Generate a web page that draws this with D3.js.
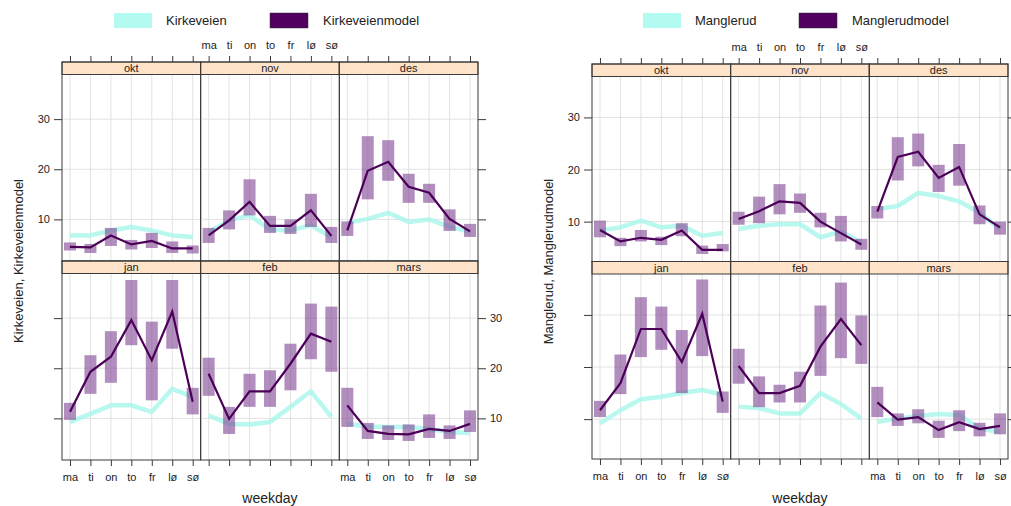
<!DOCTYPE html>
<html>
<head>
<meta charset="utf-8">
<script src="https://cdn.jsdelivr.net/npm/d3@7"></script>
<style>
  body { margin: 0; background: #fff; }
  svg { display: block; font-family: "Liberation Sans", Arial, sans-serif; }
</style>
</head>
<body>
<svg id="svg" width="1011" height="506"></svg>
<script>
const days = ["ma", "ti", "on", "to", "fr", "lø", "sø"]
const months = ["okt", "nov", "des", "jan", "feb", "mars"]
const yTicks = [10, 20, 30]

// Kirkeveien - one row per month (okt..mars), one value per weekday
const kirkeObs = [
  [6.8, 6.8, 7.8, 8.5, 7.8, 6.8, 6.5],
  [7.5, 9.8, 10.8, 8.0, 7.8, 8.8, 6.5],
  [9.3, 10.1, 11.3, 9.5, 10.0, 8.5, 7.5],
  [9.3, 10.9, 12.6, 12.6, 11.3, 15.9, 14.3],
  [10.6, 8.9, 8.8, 9.3, 12.3, 15.4, 10.3],
  [8.9, 8.4, 8.3, 8.3, 7.9, 7.3, 7.1]
]
const kirkeModel = [
  [4.5, 4.4, 6.8, 5.0, 5.7, 4.2, 4.2],
  [6.8, 9.8, 13.5, 8.7, 8.7, 11.8, 6.7],
  [7.8, 19.7, 21.5, 16.5, 15.3, 10.1, 7.6],
  [11.3, 19.3, 22.3, 29.6, 21.6, 31.3, 13.3],
  [18.9, 9.9, 15.4, 15.4, 20.9, 26.9, 25.3],
  [12.6, 7.5, 6.9, 6.8, 7.9, 7.5, 8.9]
]
const kirkeLo = [
  [3.8, 3.3, 4.7, 4.0, 4.3, 3.3, 3.2],
  [5.3, 8.0, 10.8, 7.3, 7.1, 8.5, 5.3],
  [6.7, 14.0, 17.7, 13.3, 13.3, 7.7, 6.5],
  [9.7, 14.9, 17.1, 24.6, 13.6, 23.9, 10.8],
  [14.5, 6.9, 12.3, 12.3, 15.6, 21.8, 19.3],
  [8.3, 5.9, 5.7, 5.5, 6.1, 5.9, 7.3]
]
const kirkeHi = [
  [5.4, 5.1, 8.3, 5.9, 7.3, 5.6, 4.8],
  [8.3, 11.8, 18.0, 10.7, 10.0, 15.1, 8.5],
  [9.6, 26.6, 25.8, 19.1, 17.1, 12.0, 9.1],
  [13.1, 22.6, 27.4, 37.6, 29.3, 37.6, 16.1],
  [22.1, 12.3, 18.9, 19.6, 24.9, 32.9, 32.3],
  [16.1, 9.1, 8.6, 8.8, 10.8, 8.6, 11.6]
]

// Manglerud
const mangObs = [
  [8.3, 8.9, 10.2, 8.9, 9.2, 7.3, 7.8],
  [8.6, 9.2, 9.5, 9.5, 7.0, 8.1, 6.0],
  [12.4, 13.0, 15.5, 14.9, 13.9, 11.7, 8.6],
  [9.2, 11.7, 13.8, 14.3, 15.0, 15.6, 14.7],
  [12.4, 12.1, 11.1, 11.1, 15.0, 12.9, 10.1],
  [9.5, 10.1, 10.6, 11.0, 10.8, 8.2, 7.5]
]
const mangModel = [
  [8.4, 6.2, 6.9, 6.5, 8.3, 4.6, 4.6],
  [10.5, 12.0, 13.9, 13.6, 10.0, 7.8, 5.6],
  [11.9, 22.4, 23.4, 18.4, 20.5, 11.4, 8.9],
  [11.7, 16.9, 27.3, 27.3, 21.0, 30.2, 13.4],
  [20.2, 15.0, 15.0, 16.4, 23.9, 29.2, 24.2],
  [13.2, 9.9, 10.4, 7.9, 9.4, 8.1, 8.7]
]
const mangLo = [
  [7.0, 5.3, 6.2, 5.5, 7.2, 3.8, 4.3],
  [9.4, 9.7, 11.4, 11.7, 8.9, 6.2, 4.6],
  [10.6, 17.9, 20.6, 15.7, 16.9, 9.5, 7.5],
  [10.4, 14.8, 21.9, 23.3, 15.0, 22.1, 11.2],
  [16.8, 12.3, 13.2, 13.2, 18.3, 21.7, 20.6],
  [10.4, 8.7, 9.2, 6.4, 7.7, 6.7, 7.1]
]
const mangHi = [
  [10.2, 6.9, 8.4, 7.1, 9.7, 5.4, 5.7],
  [11.9, 14.8, 17.2, 15.4, 11.7, 11.1, 6.7],
  [13.0, 26.2, 26.9, 20.9, 24.9, 13.1, 10.0],
  [13.5, 22.4, 33.4, 31.6, 27.1, 36.8, 15.3],
  [23.5, 18.2, 16.6, 19.1, 31.8, 36.2, 29.9],
  [16.2, 11.1, 11.9, 9.7, 11.7, 9.3, 11.1]
]

// the right-hand chart's right axis labels fall outside the picture, so they are not drawn
const charts = [
  { name: "Kirkeveien", obs: kirkeObs, model: kirkeModel, lo: kirkeLo, hi: kirkeHi,
    left: 62, top: 62, right: 478, bottom: 460, domain: [1.7, 38.9], legX: [114, 270], titleX: 18, rightLabels: true },
  { name: "Manglerud", obs: mangObs, model: mangModel, lo: mangLo, hi: mangHi,
    left: 592, top: 64, right: 1008, bottom: 459, domain: [2.35, 37.85], legX: [643, 799], titleX: 548, rightLabels: false }
]

const obsColor = "#a6f6ea"
const modelColor = "#4b0057"
const barColor = "#7a3d8f"
const stripH = 12.5
const frame = "#3a3a3a"

const svg = d3.select("#svg")

charts.forEach(c => drawChart(c))

function drawChart(c) {
  const g = svg.append("g")
  const colW = (c.right - c.left) / 3
  const rowH = (c.bottom - c.top) / 2

  // legend
  const leg = g.append("g").attr("font-size", 13).attr("fill", "#222")
  leg.append("rect").attr("x", c.legX[0]).attr("y", 13).attr("width", 38).attr("height", 15).attr("fill", "#b3fbf1")
  leg.append("text").attr("x", c.legX[0] + 52).attr("y", 25).text(c.name)
  leg.append("rect").attr("x", c.legX[1]).attr("y", 13).attr("width", 38).attr("height", 15).attr("fill", "#520060").attr("stroke", "#333").attr("stroke-width", 0.5)
  leg.append("text").attr("x", c.legX[1] + 53).attr("y", 25).text(c.name + "model")

  months.forEach((m, i) => {
    const col = i % 3, row = Math.floor(i / 3)
    const x0 = c.left + col * colW
    const y0 = c.top + row * rowH
    const x = d3.scalePoint().domain(days).range([x0, x0 + colW]).padding(0.39)
    const y = d3.scaleLinear().domain(c.domain).range([y0 + rowH, y0 + stripH])
    const p = g.append("g")

    // grid
    p.selectAll(".vg").data(days).join("line")
      .attr("x1", d => x(d)).attr("x2", d => x(d))
      .attr("y1", y0 + stripH).attr("y2", y0 + rowH)
      .attr("stroke", "#e2e2e2").attr("stroke-width", 1)
    p.selectAll(".hg").data(yTicks).join("line")
      .attr("x1", x0).attr("x2", x0 + colW)
      .attr("y1", d => y(d)).attr("y2", d => y(d))
      .attr("stroke", "#e2e2e2").attr("stroke-width", 1)

    // observed series
    const line = d3.line().x((d, k) => x(days[k])).y(d => y(d))
    p.append("path").attr("d", line(c.obs[i]))
      .attr("fill", "none").attr("stroke", obsColor).attr("stroke-width", 4.5)
      .attr("stroke-opacity", 0.8).attr("stroke-linejoin", "round")

    // model intervals
    p.selectAll(".bar").data(days).join("rect")
      .attr("x", d => x(d) - 6).attr("width", 12)
      .attr("y", (d, k) => y(c.hi[i][k]))
      .attr("height", (d, k) => y(c.lo[i][k]) - y(c.hi[i][k]))
      .attr("fill", barColor).attr("fill-opacity", 0.58)

    // model line
    p.append("path").attr("d", line(c.model[i]))
      .attr("fill", "none").attr("stroke", modelColor).attr("stroke-width", 2.2)

    // strip
    p.append("rect").attr("x", x0).attr("y", y0).attr("width", colW).attr("height", stripH)
      .attr("fill", "#ffe3c8").attr("stroke", frame).attr("stroke-width", 1)
    p.append("text").attr("x", x0 + colW / 2).attr("y", y0 + 10)
      .attr("text-anchor", "middle").attr("font-size", 11).attr("fill", "#222").text(m)

    // panel border
    p.append("rect").attr("x", x0).attr("y", y0).attr("width", colW).attr("height", rowH)
      .attr("fill", "none").attr("stroke", frame).attr("stroke-width", 1)

    // x axes (top row: ticks on top, labels in middle column; bottom row: labels outer columns)
    if (row === 0) {
      const ax = p.append("g").attr("transform", `translate(0,${y0})`)
        .call(d3.axisTop(x).tickSize(6).tickSizeOuter(0).tickFormat(col === 1 ? d => d : ""))
      styleAxis(ax)
      ax.selectAll("text").attr("dy", "-0.4em")
    } else {
      const ax = p.append("g").attr("transform", `translate(0,${y0 + rowH})`)
        .call(d3.axisBottom(x).tickSize(6).tickSizeOuter(0).tickFormat(col !== 1 ? d => d : ""))
      styleAxis(ax)
      ax.selectAll("text").attr("dy", "1.1em")
    }

    // y axes
    if (col === 0) {
      const ay = p.append("g").attr("transform", `translate(${x0},0)`)
        .call(d3.axisLeft(y).tickValues(yTicks).tickSize(8).tickSizeOuter(0).tickPadding(4)
          .tickFormat(row === 0 ? d3.format("d") : ""))
      styleAxis(ay)
    }
    if (col === 2) {
      const ay = p.append("g").attr("transform", `translate(${x0 + colW},0)`)
        .call(d3.axisRight(y).tickValues(yTicks).tickSize(8).tickSizeOuter(0).tickPadding(4)
          .tickFormat(row === 1 && c.rightLabels ? d3.format("d") : ""))
      styleAxis(ay)
    }
  })

  // axis titles
  g.append("text").attr("x", (c.left + c.right) / 2).attr("y", 503)
    .attr("text-anchor", "middle").attr("font-size", 14).attr("fill", "#222").text("weekday")
  g.append("text")
    .attr("transform", `translate(${c.titleX + 5},${(c.top + c.bottom) / 2}) rotate(-90)`)
    .attr("text-anchor", "middle").attr("font-size", 13).attr("fill", "#222")
    .text(c.name + ", " + c.name + "model")
}

function styleAxis(a) {
  a.select(".domain").remove()
  a.selectAll("line").attr("stroke", frame)
  a.selectAll("text").attr("font-size", 11).attr("fill", "#222")
    .attr("font-family", "Liberation Sans, Arial, sans-serif")
}
</script>
</body>
</html>
